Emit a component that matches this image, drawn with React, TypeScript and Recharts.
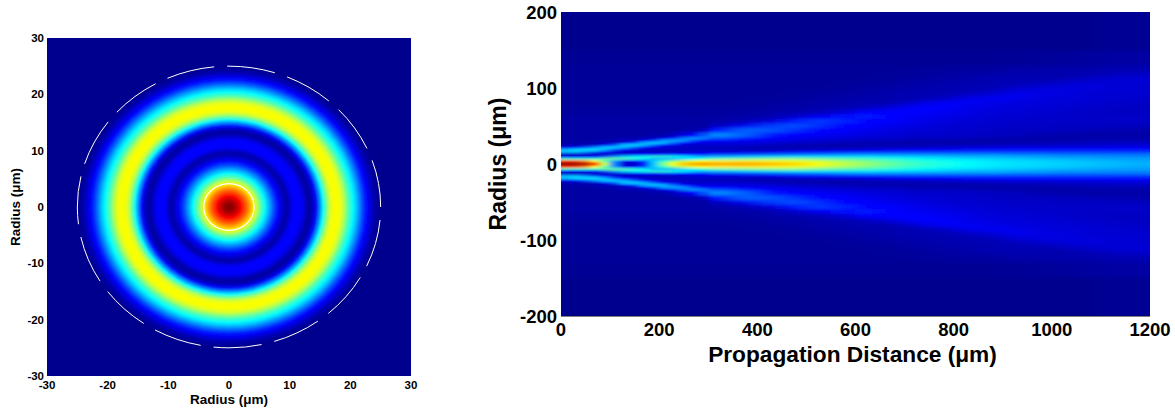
import { CartesianGrid, Label, Scatter, ScatterChart, XAxis, YAxis } from 'recharts';

const FONT = '"Liberation Sans", Arial, sans-serif';

// Left panel: intensity read along a radius, every half micron from the centre out
const ringRadius = [
  0, 0.5, 1, 1.5, 2, 2.5, 3, 3.5, 4, 4.5, 5, 5.5, 6, 6.5, 7, 7.5, 8, 8.5, 9, 9.5, 10, 10.5, 11, 11.5, 12, 12.5, 13,
  13.5, 14, 14.5, 15, 15.5, 16, 16.5, 17, 17.5, 18, 18.5, 19, 19.5, 20, 20.5, 21, 21.5, 22, 22.5, 23, 23.5, 24, 24.5,
];
const ringLevel = [
  1, 0.99, 0.96, 0.92, 0.87, 0.82, 0.77, 0.71, 0.65, 0.58, 0.5, 0.43, 0.37, 0.31, 0.25, 0.19, 0.14, 0.09, 0.05, 0.025,
  0.05, 0.1, 0.13, 0.13, 0.1, 0.06, 0.025, 0.02, 0.07, 0.15, 0.26, 0.37, 0.47, 0.56, 0.61, 0.62, 0.62, 0.6, 0.55,
  0.48, 0.42, 0.37, 0.32, 0.26, 0.2, 0.15, 0.1, 0.06, 0.03, 0.01,
];
const guideRadius = [25, 4.15];
const radiusTicks = [-30, -20, -10, 0, 10, 20, 30];

// Right panel: grid edges in microns
const nearZ = [0, 20, 40, 60, 80, 100, 120, 140, 160, 180, 200, 220, 240, 260, 280, 300];
const farZ = [300, 350, 400, 450, 500, 550, 600, 650, 700, 750, 800, 850, 900, 950, 1000, 1050, 1100, 1150, 1200];
const rowEdges = [
  0, 3, 6, 9, 12, 15, 18, 21, 24, 27, 30, 33, 36, 42, 48, 54, 60, 66, 72, 78, 84, 90, 96, 102, 108, 114, 120, 126, 132,
  150, 200,
];

// one list per |r| row, one value per near column
const nearLevels = [
  [0.97, 0.97, 0.95, 0.85, 0.58, 0.25, 0.06, 0.05, 0.14, 0.32, 0.5, 0.62, 0.68, 0.7, 0.72],
  [0.82, 0.8, 0.74, 0.62, 0.45, 0.28, 0.14, 0.14, 0.2, 0.33, 0.42, 0.5, 0.56, 0.6, 0.62],
  [0.42, 0.42, 0.42, 0.42, 0.48, 0.48, 0.45, 0.42, 0.36, 0.3, 0.3, 0.3, 0.33, 0.36, 0.42],
  [0.1, 0.1, 0.1, 0.12, 0.2, 0.27, 0.33, 0.36, 0.4, 0.42, 0.42, 0.4, 0.36, 0.33, 0.3],
  [0.05, 0.05, 0.05, 0.04, 0.05, 0.06, 0.07, 0.09, 0.11, 0.13, 0.15, 0.15, 0.14, 0.13, 0.11],
  [0.3, 0.3, 0.26, 0.2, 0.12, 0.08, 0.06, 0.05, 0.05, 0.05, 0.05, 0.05, 0.06, 0.07, 0.08],
  [0.32, 0.35, 0.36, 0.36, 0.3, 0.2, 0.12, 0.08, 0.06, 0.05, 0.05, 0.05, 0.05, 0.05, 0.05],
  [0.1, 0.14, 0.2, 0.26, 0.33, 0.34, 0.3, 0.22, 0.14, 0.09, 0.07, 0.06, 0.05, 0.05, 0.05],
  [0.03, 0.03, 0.04, 0.06, 0.12, 0.2, 0.32, 0.34, 0.3, 0.22, 0.13, 0.09, 0.07, 0.06, 0.06],
  [0.03, 0.03, 0.03, 0.03, 0.04, 0.05, 0.1, 0.18, 0.3, 0.33, 0.3, 0.22, 0.14, 0.1, 0.08],
  [0.02, 0.02, 0.02, 0.03, 0.03, 0.03, 0.04, 0.05, 0.1, 0.18, 0.28, 0.3, 0.28, 0.2, 0.14],
  [0.02, 0.02, 0.02, 0.02, 0.02, 0.03, 0.03, 0.03, 0.04, 0.05, 0.09, 0.16, 0.24, 0.28, 0.26],
  [0.02, 0.02, 0.02, 0.02, 0.02, 0.02, 0.02, 0.02, 0.02, 0.03, 0.03, 0.05, 0.08, 0.12, 0.2],
  [0.02, 0.02, 0.02, 0.02, 0.02, 0.02, 0.02, 0.02, 0.02, 0.02, 0.02, 0.02, 0.03, 0.03, 0.05],
  [0.02, 0.02, 0.02, 0.02, 0.02, 0.02, 0.02, 0.02, 0.02, 0.02, 0.02, 0.02, 0.02, 0.02, 0.02],
  [0.02, 0.02, 0.02, 0.02, 0.02, 0.02, 0.02, 0.02, 0.02, 0.02, 0.02, 0.02, 0.02, 0.02, 0.02],
];

// one list per far column, one value per |r| row
const farLevels = [
  [0.72, 0.63, 0.44, 0.3, 0.14, 0.08, 0.04, 0.05, 0.06, 0.08, 0.12, 0.2, 0.26, 0.14, 0.05, 0.025, 0.02, 0.015, 0.012, 0.01, 0.01, 0.01, 0.01, 0.01, 0.01, 0.01, 0.01, 0.01, 0.005, 0],
  [0.72, 0.64, 0.47, 0.31, 0.16, 0.08, 0.035, 0.04, 0.06, 0.08, 0.1, 0.15, 0.22, 0.22, 0.1, 0.04, 0.025, 0.02, 0.015, 0.012, 0.01, 0.01, 0.01, 0.01, 0.01, 0.01, 0.01, 0.01, 0.005, 0],
  [0.7, 0.63, 0.49, 0.33, 0.18, 0.09, 0.04, 0.03, 0.05, 0.07, 0.09, 0.11, 0.15, 0.21, 0.18, 0.07, 0.03, 0.025, 0.02, 0.015, 0.012, 0.01, 0.01, 0.01, 0.01, 0.01, 0.01, 0.01, 0.005, 0],
  [0.67, 0.61, 0.5, 0.34, 0.2, 0.1, 0.05, 0.03, 0.035, 0.06, 0.08, 0.09, 0.12, 0.17, 0.2, 0.15, 0.06, 0.03, 0.025, 0.02, 0.015, 0.012, 0.01, 0.01, 0.01, 0.01, 0.01, 0.01, 0.005, 0],
  [0.62, 0.58, 0.47, 0.34, 0.22, 0.12, 0.06, 0.035, 0.03, 0.05, 0.07, 0.08, 0.1, 0.13, 0.17, 0.18, 0.1, 0.04, 0.03, 0.025, 0.02, 0.015, 0.012, 0.01, 0.01, 0.01, 0.01, 0.01, 0.005, 0],
  [0.57, 0.53, 0.45, 0.34, 0.24, 0.14, 0.07, 0.035, 0.025, 0.04, 0.06, 0.07, 0.09, 0.11, 0.13, 0.16, 0.14, 0.07, 0.035, 0.03, 0.025, 0.02, 0.015, 0.012, 0.01, 0.01, 0.01, 0.01, 0.005, 0],
  [0.52, 0.49, 0.43, 0.34, 0.25, 0.15, 0.08, 0.045, 0.03, 0.03, 0.05, 0.06, 0.08, 0.09, 0.11, 0.13, 0.145, 0.11, 0.05, 0.03, 0.03, 0.025, 0.02, 0.015, 0.012, 0.01, 0.01, 0.01, 0.005, 0],
  [0.47, 0.45, 0.4, 0.33, 0.25, 0.16, 0.09, 0.05, 0.03, 0.03, 0.045, 0.06, 0.07, 0.08, 0.09, 0.11, 0.125, 0.13, 0.08, 0.035, 0.03, 0.03, 0.025, 0.02, 0.015, 0.012, 0.01, 0.01, 0.005, 0],
  [0.43, 0.41, 0.38, 0.32, 0.25, 0.17, 0.1, 0.06, 0.035, 0.025, 0.035, 0.05, 0.06, 0.07, 0.08, 0.09, 0.1, 0.115, 0.115, 0.07, 0.035, 0.035, 0.03, 0.025, 0.02, 0.015, 0.012, 0.01, 0.005, 0],
  [0.4, 0.39, 0.36, 0.31, 0.25, 0.17, 0.1, 0.06, 0.04, 0.025, 0.03, 0.05, 0.06, 0.065, 0.07, 0.08, 0.09, 0.1, 0.11, 0.1, 0.05, 0.035, 0.035, 0.03, 0.025, 0.02, 0.015, 0.01, 0.005, 0],
  [0.38, 0.37, 0.34, 0.3, 0.25, 0.18, 0.11, 0.07, 0.045, 0.03, 0.025, 0.04, 0.055, 0.06, 0.065, 0.07, 0.08, 0.085, 0.09, 0.1, 0.085, 0.045, 0.035, 0.035, 0.03, 0.025, 0.02, 0.012, 0.005, 0],
  [0.36, 0.35, 0.33, 0.3, 0.25, 0.18, 0.11, 0.07, 0.05, 0.03, 0.025, 0.035, 0.05, 0.055, 0.06, 0.065, 0.07, 0.075, 0.08, 0.09, 0.095, 0.07, 0.04, 0.035, 0.035, 0.03, 0.02, 0.015, 0.005, 0],
  [0.35, 0.34, 0.32, 0.29, 0.24, 0.18, 0.12, 0.08, 0.05, 0.035, 0.025, 0.03, 0.045, 0.05, 0.055, 0.06, 0.065, 0.07, 0.075, 0.08, 0.09, 0.09, 0.065, 0.04, 0.035, 0.035, 0.025, 0.02, 0.008, 0],
  [0.34, 0.33, 0.31, 0.28, 0.24, 0.18, 0.12, 0.08, 0.055, 0.04, 0.03, 0.025, 0.035, 0.05, 0.055, 0.06, 0.06, 0.065, 0.07, 0.075, 0.08, 0.085, 0.08, 0.055, 0.035, 0.03, 0.03, 0.02, 0.01, 0],
  [0.33, 0.32, 0.3, 0.27, 0.23, 0.18, 0.12, 0.08, 0.06, 0.04, 0.03, 0.025, 0.03, 0.045, 0.05, 0.055, 0.06, 0.06, 0.065, 0.07, 0.075, 0.08, 0.08, 0.07, 0.045, 0.03, 0.03, 0.025, 0.012, 0],
  [0.32, 0.31, 0.29, 0.27, 0.23, 0.18, 0.125, 0.085, 0.06, 0.045, 0.035, 0.03, 0.025, 0.04, 0.05, 0.055, 0.055, 0.055, 0.06, 0.065, 0.07, 0.07, 0.075, 0.075, 0.06, 0.04, 0.03, 0.025, 0.015, 0],
  [0.31, 0.3, 0.28, 0.26, 0.23, 0.18, 0.13, 0.09, 0.065, 0.05, 0.035, 0.03, 0.025, 0.035, 0.05, 0.055, 0.055, 0.05, 0.055, 0.06, 0.065, 0.065, 0.07, 0.07, 0.07, 0.05, 0.035, 0.03, 0.02, 0.005],
  [0.3, 0.29, 0.28, 0.26, 0.23, 0.18, 0.13, 0.09, 0.07, 0.05, 0.035, 0.03, 0.025, 0.03, 0.045, 0.055, 0.055, 0.05, 0.05, 0.055, 0.06, 0.065, 0.065, 0.065, 0.07, 0.06, 0.04, 0.03, 0.02, 0.005],
];
const zTicks = [0, 200, 400, 600, 800, 1000, 1200];
const rTicks = [-200, -100, 0, 100, 200];

const NAVY = '#00008f';

// MATLAB jet
function jet(v: number) {
  const ch = (t: number) => Math.round(255 * Math.max(0, Math.min(1, t)));
  const r = ch(Math.min(4 * v - 1.5, 4.5 - 4 * v));
  const g = ch(Math.min(4 * v - 0.5, 3.5 - 4 * v));
  const b = ch(Math.min(4 * v + 0.56, 2.5 - 4 * v));
  return `rgb(${r},${g},${b})`;
}

const L_PLOT = { left: 47, top: 38, width: 364, height: 338 };
const R_PLOT = { left: 131, top: 12, width: 589, height: 304 };
const L_SPAN = 60;
const pxZ = R_PLOT.width / 1200;
const pxR = R_PLOT.height / 400;

const ringData = ringRadius.map((r, i) => ({ x: 0, y: 0, r: r + 0.25, level: ringLevel[i] })).reverse();
const guideData = guideRadius.map((r) => ({ x: 0, y: 0, r }));

function buildCells(zEdges: number[], levelAt: (row: number, col: number) => number, rows: number, left: number, right: number) {
  const out: any[] = [];
  for (let row = 0; row < rows; row++) {
    for (let col = 0; col < zEdges.length - 1; col++) {
      for (const sign of [1, -1]) {
        out.push({
          x: (zEdges[col] + zEdges[col + 1]) / 2,
          y: (sign * (rowEdges[row] + rowEdges[row + 1])) / 2,
          dz: zEdges[col + 1] - zEdges[col],
          dr: rowEdges[row + 1] - rowEdges[row],
          level: levelAt(row, col),
          padL: col === 0 ? left : 0,
          padR: col === zEdges.length - 2 ? right : 0,
        });
      }
    }
  }
  return out;
}

const nearCells = buildCells(nearZ, (row, col) => nearLevels[row][col], nearLevels.length, 12, 0);
const farCells = buildCells(farZ, (row, col) => farLevels[col][row], rowEdges.length - 1, 160, 60);

function HeatCell(props: any) {
  const { cx, cy, payload } = props;
  const w = payload.dz * pxZ;
  const h = payload.dr * pxR;
  return (
    <rect
      x={cx - w / 2 - payload.padL - 0.5}
      y={cy - h / 2 - 0.5}
      width={w + payload.padL + payload.padR + 1}
      height={h + 1}
      fill={jet(payload.level)}
    />
  );
}

function Ring(props: any) {
  const { cx, cy, payload } = props;
  return (
    <ellipse
      cx={cx}
      cy={cy}
      rx={(payload.r * L_PLOT.width) / L_SPAN}
      ry={(payload.r * L_PLOT.height) / L_SPAN}
      fill={jet(payload.level)}
    />
  );
}

function Guide(props: any) {
  const { cx, cy, payload } = props;
  const outer = payload.r > 10;
  return (
    <ellipse
      cx={cx}
      cy={cy}
      rx={(payload.r * L_PLOT.width) / L_SPAN}
      ry={(payload.r * L_PLOT.height) / L_SPAN}
      fill="none"
      stroke="#fff"
      strokeWidth={outer ? 1 : 1.2}
      strokeDasharray={outer ? '48.3 13' : undefined}
      strokeDashoffset={outer ? 48.3 : undefined}
    />
  );
}

const css = `
.rings { filter: url(#blurRings); }
.near { filter: url(#blurNear); clip-path: url(#clipRight); }
.far { filter: url(#blurFar); clip-path: url(#clipRight); }
`;

function LeftPanel() {
  return (
    <ScatterChart width={430} height={412} margin={{ top: L_PLOT.top, right: 19, bottom: 0, left: 7 }}>
      <defs>
        <filter id="blurRings" filterUnits="userSpaceOnUse" x="0" y="0" width="430" height="412">
          <feGaussianBlur stdDeviation="1.2" />
        </filter>
      </defs>
      <CartesianGrid fill={NAVY} fillOpacity={1} stroke="none" horizontal={false} vertical={false} />
      <XAxis
        dataKey="x"
        type="number"
        domain={[-30, 30]}
        ticks={radiusTicks}
        interval={0}
        height={36}
        axisLine={false}
        tickLine={false}
        tickSize={0}
        tickMargin={5}
        tick={{ fontFamily: FONT, fontWeight: 'bold', fontSize: 11.5, fill: '#000' }}
      >
        <Label value="Radius (μm)" position="insideBottom" offset={8} style={{ fontFamily: FONT, fontWeight: 'bold', fontSize: 13.5, fill: '#000' }} />
      </XAxis>
      <YAxis
        dataKey="y"
        type="number"
        domain={[-30, 30]}
        ticks={radiusTicks}
        interval={0}
        width={40}
        axisLine={false}
        tickLine={false}
        tickSize={0}
        tickMargin={3}
        tick={{ fontFamily: FONT, fontWeight: 'bold', fontSize: 11.5, fill: '#000' }}
      >
        <Label value="Radius (μm)" angle={-90} position="insideLeft" offset={8} style={{ fontFamily: FONT, fontWeight: 'bold', fontSize: 13.5, fill: '#000', textAnchor: 'middle' }} />
      </YAxis>
      <Scatter className="rings" data={ringData} shape={Ring} isAnimationActive={false} />
      <Scatter data={guideData} shape={Guide} isAnimationActive={false} />
    </ScatterChart>
  );
}

function RightPanel() {
  return (
    <ScatterChart width={745} height={412} margin={{ top: R_PLOT.top, right: 25, bottom: 0, left: 11 }}>
      <defs>
        <filter id="blurNear" filterUnits="userSpaceOnUse" x="0" y="0" width="745" height="412">
          <feGaussianBlur stdDeviation="3 1" />
        </filter>
        <filter id="blurFar" filterUnits="userSpaceOnUse" x="-200" y="0" width="1200" height="412">
          <feGaussianBlur stdDeviation="10 1.4" />
        </filter>
        <clipPath id="clipRight">
          <rect x={R_PLOT.left} y={R_PLOT.top} width={R_PLOT.width} height={R_PLOT.height} />
        </clipPath>
      </defs>
      <CartesianGrid fill={NAVY} fillOpacity={1} stroke="none" horizontal={false} vertical={false} />
      <XAxis
        dataKey="x"
        type="number"
        domain={[0, 1200]}
        ticks={zTicks}
        interval={0}
        height={96}
        axisLine={{ stroke: '#000', strokeWidth: 1 }}
        tickLine={false}
        tickSize={0}
        tickMargin={7}
        tick={{ fontFamily: FONT, fontWeight: 'bold', fontSize: 18.5, fill: '#000' }}
      >
        <Label value="Propagation Distance (μm)" position="insideBottom" offset={50} dx={-3} style={{ fontFamily: FONT, fontWeight: 'bold', fontSize: 22.7, fill: '#000' }} />
      </XAxis>
      <YAxis
        dataKey="y"
        type="number"
        domain={[-200, 200]}
        ticks={rTicks}
        interval={0}
        width={120}
        axisLine={false}
        tickLine={false}
        tickSize={0}
        tickMargin={4}
        tick={{ fontFamily: FONT, fontWeight: 'bold', fontSize: 18.5, fill: '#000' }}
      >
        <Label value="Radius (μm)" angle={-90} position="insideLeft" offset={57} style={{ fontFamily: FONT, fontWeight: 'bold', fontSize: 23, fill: '#000', textAnchor: 'middle' }} />
      </YAxis>
      <Scatter className="far" data={farCells} shape={HeatCell} isAnimationActive={false} />
      <Scatter className="near" data={nearCells} shape={HeatCell} isAnimationActive={false} />
    </ScatterChart>
  );
}

export default function App() {
  return (
    <div style={{ position: 'absolute', left: 0, top: 0, width: 1175, height: 412, background: '#fff' }}>
      <style>{css}</style>
      <div style={{ position: 'absolute', left: 0, top: 0 }}>
        <LeftPanel />
      </div>
      <div style={{ position: 'absolute', left: 430, top: 0 }}>
        <RightPanel />
      </div>
    </div>
  );
}
